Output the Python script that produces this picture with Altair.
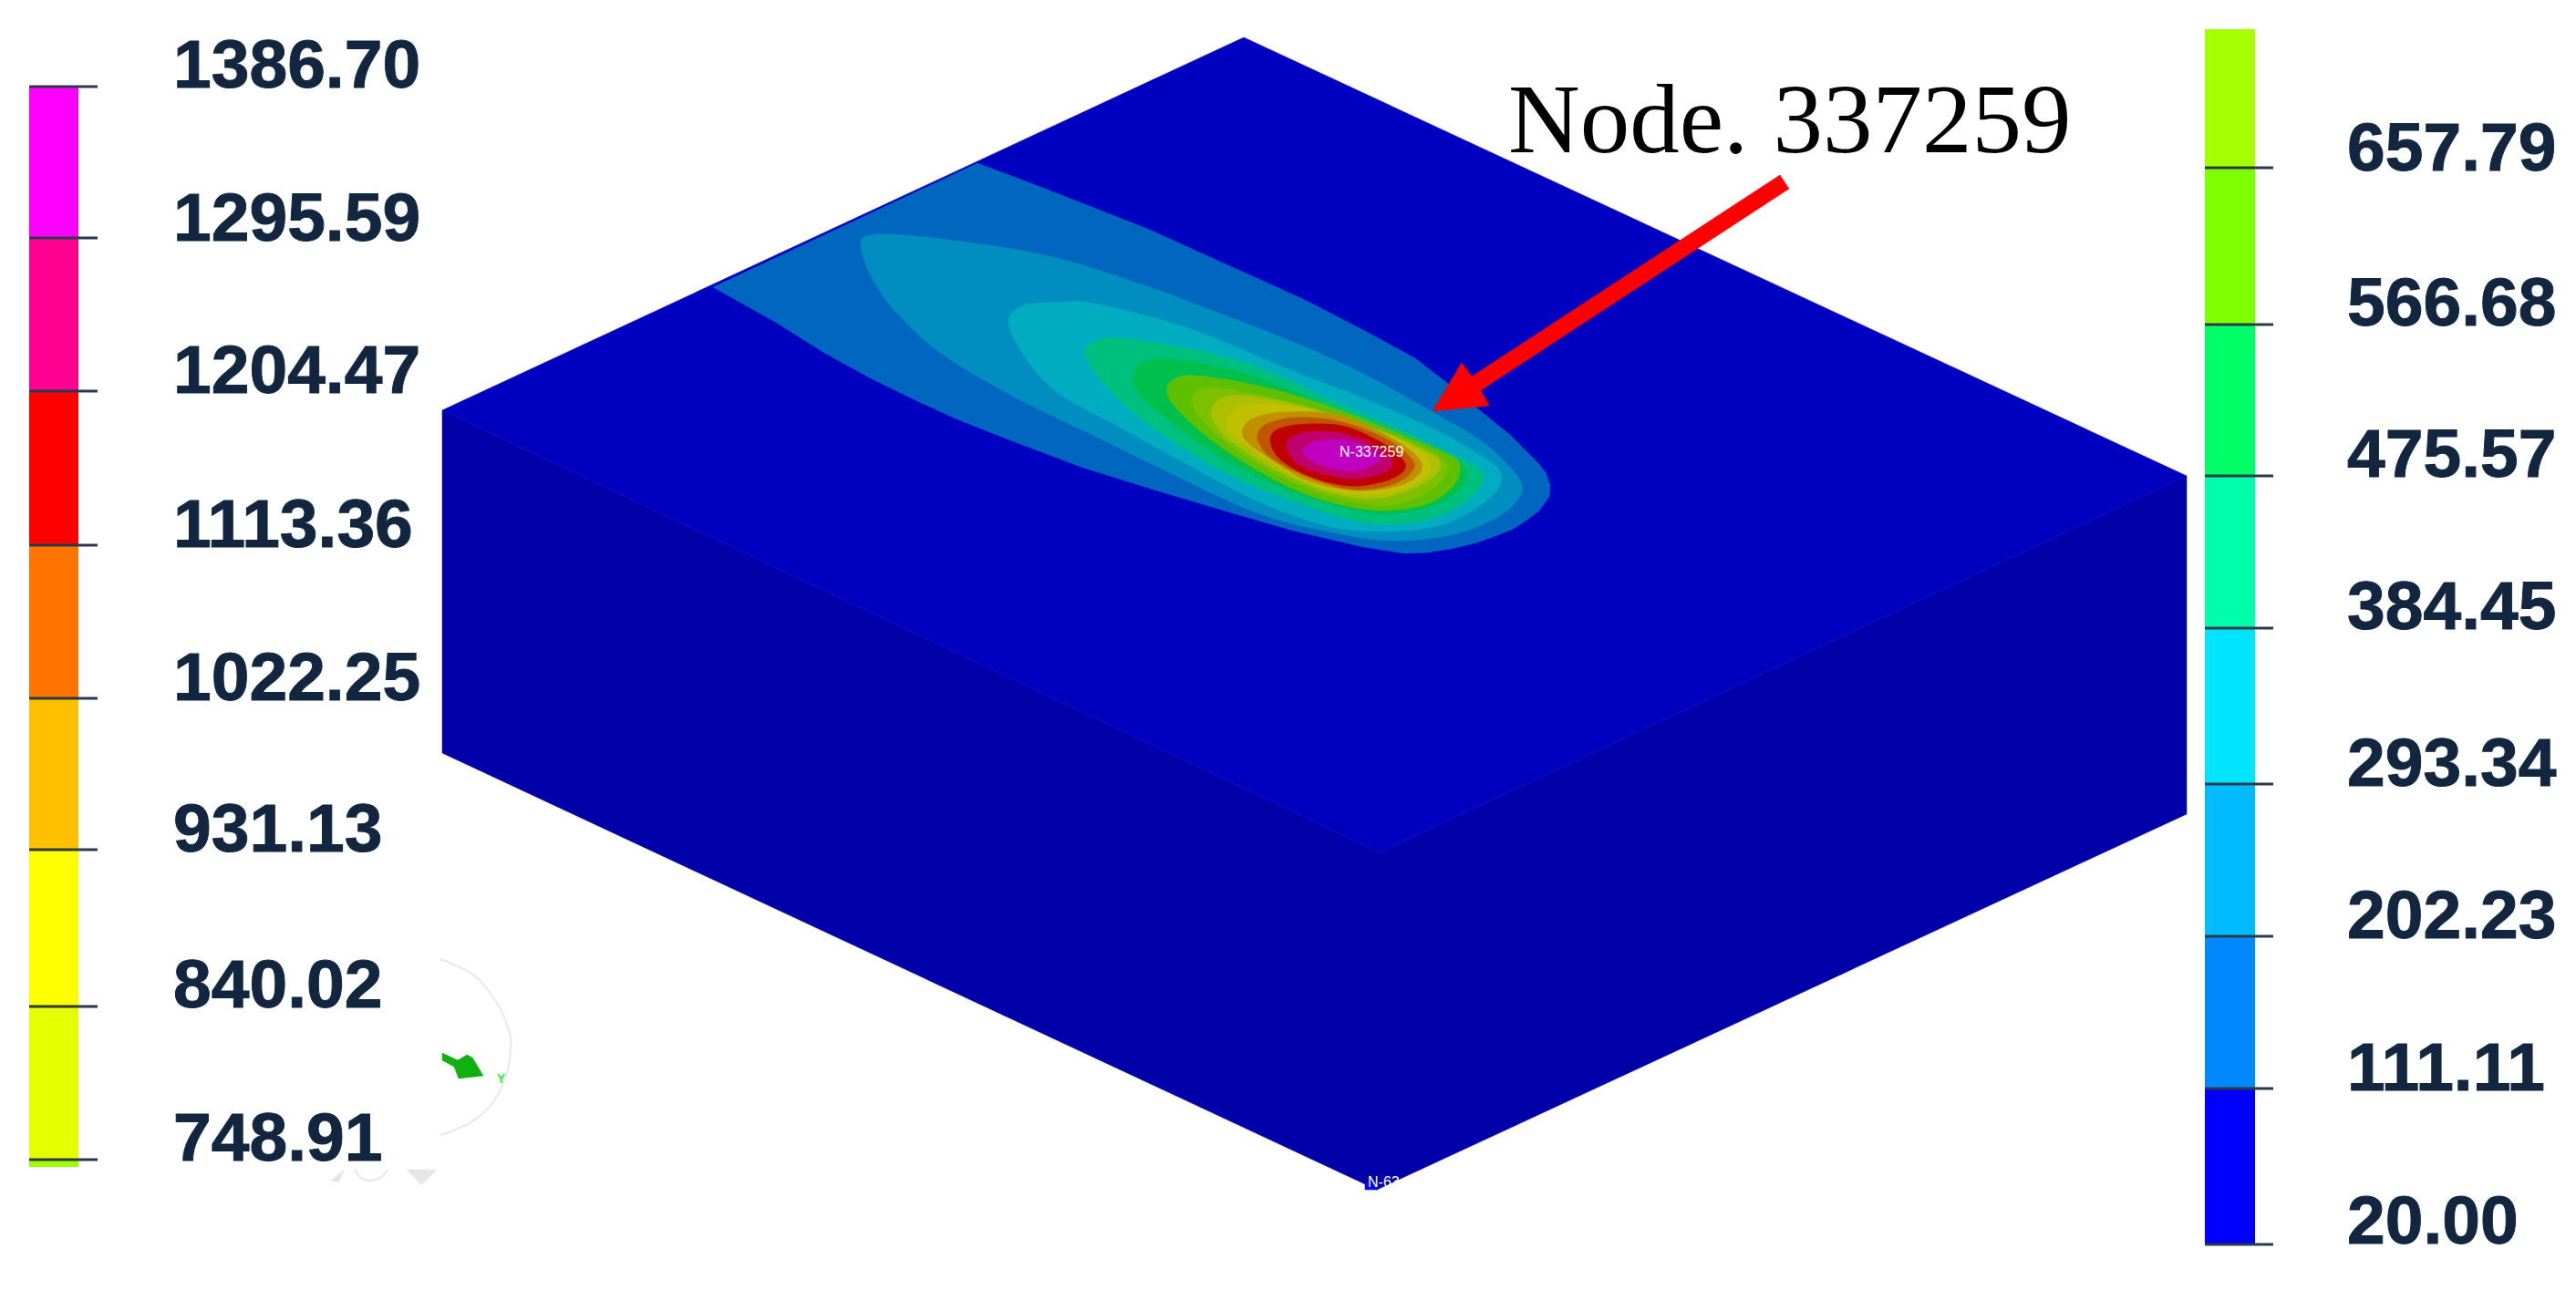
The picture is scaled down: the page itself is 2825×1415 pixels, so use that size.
import altair as alt
import pandas as pd

W, H = 2809, 1399
X = alt.Scale(domain=[8, 8 + W], nice=False, zero=False)
Y = alt.Scale(domain=[8 + H, 8], nice=False, zero=False)

LEFT_LABELS = ["1386.70", "1295.59", "1204.47", "1113.36", "1022.25", "931.13", "840.02", "748.91"]
LEFT_TICKS = [95, 261, 429, 598, 766, 932, 1104, 1272]
LEFT_BASE = [96, 264, 431, 600, 768, 934, 1105, 1273]
LEFT_COLORS = ["#ff00ff", "#ff0090", "#ff0000", "#ff7300", "#ffc000", "#ffff00", "#e4ff00"]

RIGHT_LABELS = ["657.79", "566.68", "475.57", "384.45", "293.34", "202.23", "111.11", "20.00"]
RIGHT_TICKS = [184, 356, 522, 689, 860, 1027, 1194, 1365]
RIGHT_BASE = [187, 357, 523, 690, 862, 1029, 1196, 1364]
RIGHT_COLORS = ["#a6ff00", "#7dff00", "#00ff66", "#00ffaa", "#00e5ff", "#00bbff", "#0088ff", "#0000ff"]

TOP_FACE = [(1364, 41), (2398, 522), (1513, 935), (485, 450)]
SIDE_FACES = [(485, 450), (1513, 935), (2398, 522), (2398, 893), (1510, 1305), (485, 826)]

BAND_OUTER = [(1072, 179), (1115, 195), (1159, 212), (1210, 232), (1261, 252), (1338, 287), (1385, 308), (1433, 330),
              (1495, 362), (1552, 393), (1587, 420), (1625, 452), (1656, 477), (1686, 507), (1695, 518), (1700, 532),
              (1699, 545), (1688, 560), (1675, 570), (1660, 580), (1640, 588), (1617, 596), (1591, 602), (1566, 606),
              (1541, 607), (1495, 600), (1418, 582), (1342, 560), (1265, 537), (1188, 513), (1108, 483), (1050, 460),
              (1006, 440), (955, 415), (904, 387), (850, 353), (782, 315)]
BAND_2 = [(945, 275), (960, 257), (1057, 265), (1159, 283), (1261, 315), (1320, 337), (1418, 375), (1495, 410),
          (1571, 452), (1629, 487), (1667, 527), (1663, 550), (1637, 570), (1591, 587), (1533, 593), (1476, 587),
          (1380, 563), (1265, 510), (1210, 483), (1108, 433), (1026, 383), (970, 327)]
BAND_3 = [(1106, 353), (1123, 335), (1159, 332), (1200, 333), (1303, 360), (1418, 407), (1495, 437), (1571, 470),
          (1629, 503), (1646, 520), (1640, 540), (1610, 563), (1571, 578), (1514, 583), (1456, 577), (1380, 550),
          (1303, 510), (1227, 468), (1159, 430), (1123, 390)]
BAND_4 = [(1190, 390), (1200, 375), (1227, 371), (1303, 382), (1380, 403), (1456, 437), (1533, 470), (1591, 497),
          (1625, 517), (1621, 537), (1591, 560), (1552, 573), (1495, 573), (1418, 550), (1341, 517), (1265, 470),
          (1219, 430)]
BAND_5 = [(1242, 413), (1253, 398), (1284, 394), (1361, 408), (1437, 437), (1514, 470), (1571, 493), (1606, 512),
          (1606, 530), (1579, 552), (1533, 563), (1487, 560), (1418, 540), (1341, 503), (1280, 460), (1250, 433)]
BAND_6 = [(1280, 430), (1286, 417), (1311, 412), (1380, 423), (1456, 445), (1533, 475), (1591, 500), (1601, 513),
          (1594, 533), (1564, 553), (1514, 560), (1456, 550), (1399, 527), (1334, 487), (1292, 450)]
BAND_7 = [(1307, 440), (1315, 428), (1342, 426), (1418, 442), (1495, 465), (1552, 487), (1585, 507), (1581, 527),
          (1552, 547), (1514, 554), (1456, 543), (1399, 520), (1342, 483), (1315, 457)]
BAND_8 = [(1328, 453), (1338, 438), (1365, 434), (1426, 445), (1495, 467), (1552, 490), (1577, 503), (1575, 520),
          (1545, 538), (1502, 547), (1449, 537), (1395, 513), (1349, 483), (1334, 467)]
BAND_9 = [(1345, 467), (1353, 450), (1384, 442), (1449, 452), (1514, 473), (1556, 493), (1568, 507), (1564, 523),
          (1533, 538), (1495, 543), (1441, 532), (1388, 503), (1357, 480)]
BAND_10 = [(1363, 470), (1376, 458), (1410, 452), (1468, 455), (1525, 480), (1556, 503), (1556, 520), (1533, 533),
           (1487, 538), (1434, 527), (1388, 500), (1366, 483)]
BAND_11 = [(1379, 477), (1389, 465), (1422, 458), (1468, 462), (1518, 480), (1548, 503), (1548, 518), (1525, 532),
           (1483, 537), (1434, 523), (1395, 503), (1382, 488)]
BAND_12 = [(1393, 482), (1403, 470), (1434, 465), (1476, 468), (1518, 487), (1539, 505), (1539, 517), (1518, 528),
           (1480, 533), (1437, 523), (1403, 503)]
BAND_13 = [(1411, 487), (1422, 477), (1445, 473), (1480, 477), (1514, 493), (1527, 507), (1518, 518), (1487, 525),
           (1453, 520), (1422, 508)]
BAND_14 = [(1429, 493), (1441, 485), (1464, 482), (1495, 488), (1512, 502), (1506, 510), (1483, 517), (1453, 512),
           (1435, 503)]
BANDS = [BAND_OUTER, BAND_2, BAND_3, BAND_4, BAND_5, BAND_6, BAND_7, BAND_8, BAND_9, BAND_10, BAND_11, BAND_12,
         BAND_13, BAND_14]
BAND_COLORS = ["#0066c0", "#008dc0", "#00acc0", "#00c080", "#00c04d", "#5ec000", "#7dc000", "#abc000", "#c0c000",
               "#c09000", "#c05700", "#c00000", "#c0006c", "#c000c0"]

ARROW = [(1571, 451), (1603, 398), (1614, 413), (1952, 192), (1962, 207), (1624, 428), (1633, 445)]
TRIAD_ARC = [(483, 1052), (520, 1070), (545, 1100), (558, 1130), (560, 1150), (555, 1180), (540, 1210), (515, 1232),
             (483, 1245)]
TRIAD_ARROW = [(485, 1155), (502, 1163), (512, 1157), (518, 1160), (530, 1180), (503, 1183), (498, 1170), (485, 1163)]
GRAY_TRI = [(446, 1283), (479, 1283), (462, 1300)]
GRAY_ARROW = [(377, 1283), (372, 1296), (362, 1296)]
GRAY_ARC = [(389, 1283), (396, 1292), (406, 1295), (417, 1292), (425, 1283)]
PATCH = [(1497, 1297), (1511, 1297), (1511, 1305), (1497, 1305)]


def poly(points, color, interp="linear-closed"):
    d = pd.DataFrame({"i": range(len(points)), "x": [p[0] for p in points], "y": [p[1] for p in points]})
    return alt.Chart(d).mark_line(interpolate=interp, fill=color, stroke=color, strokeWidth=0.5, clip=False).encode(
        x=alt.X("x:Q", scale=X, axis=None),
        y=alt.Y("y:Q", scale=Y, axis=None),
        order="i:Q",
    )


def stroke(points, color, width):
    d = pd.DataFrame({"i": range(len(points)), "x": [p[0] for p in points], "y": [p[1] for p in points]})
    return alt.Chart(d).mark_line(interpolate="cardinal", stroke=color, strokeWidth=width).encode(
        x=alt.X("x:Q", scale=X, axis=None),
        y=alt.Y("y:Q", scale=Y, axis=None),
        order="i:Q",
    )


def bar(edges, colors, x0, x1):
    d = pd.DataFrame({"y": edges[:-1], "y2": edges[1:], "c": colors, "x": x0, "x2": x1})
    return alt.Chart(d).mark_rect().encode(
        x=alt.X("x:Q", scale=X, axis=None), x2="x2:Q",
        y=alt.Y("y:Q", scale=Y, axis=None), y2="y2:Q",
        color=alt.Color("c:N", scale=None),
    )


def rules(ticks, x0, x1):
    d = pd.DataFrame({"y": ticks, "x": x0, "x2": x1})
    return alt.Chart(d).mark_rule(color="#2b3a4a", strokeWidth=3).encode(
        x=alt.X("x:Q", scale=X, axis=None), x2="x2:Q",
        y=alt.Y("y:Q", scale=Y, axis=None),
    )


def labels(texts, xs, ys, color, size, font, weight="normal", outline=0):
    d = pd.DataFrame({"t": texts, "x": xs, "y": ys})
    kw = {"stroke": color, "strokeWidth": outline} if outline else {}
    return alt.Chart(d).mark_text(align="left", baseline="alphabetic", color=color, fontSize=size, font=font,
                                  fontWeight=weight, **kw).encode(
        x=alt.X("x:Q", scale=X, axis=None),
        y=alt.Y("y:Q", scale=Y, axis=None),
        text="t:N",
    )


layers = [
    poly(SIDE_FACES, "#0000a8"),
    poly(TOP_FACE, "#0000c0"),
]
for i, (b, c) in enumerate(zip(BANDS, BAND_COLORS)):
    layers.append(poly(b, c, "cardinal-closed") if i else poly(b, c))

layers += [
    poly(ARROW, "#ff0000"),
    poly(PATCH, "#0000ff"),
    bar(LEFT_TICKS, LEFT_COLORS, 32, 86),
    bar([1272, 1280], ["#9dff00"], 32, 86),
    rules(LEFT_TICKS, 32, 107),
    bar([32] + RIGHT_TICKS, RIGHT_COLORS, 2418, 2473),
    rules(RIGHT_TICKS, 2418, 2493),
    labels(LEFT_LABELS, [190] * 8, LEFT_BASE, "#12263f", 75, "Liberation Sans", "bold", 1),
    labels(RIGHT_LABELS, [2574] * 8, RIGHT_BASE, "#12263f", 75, "Liberation Sans", "bold", 1),
    labels(["Node. 337259"], [1654], [167], "#000000", 109, "Liberation Serif"),
    labels(["N-337259"], [1469], [501], "#ffffff", 16, "Liberation Sans"),
    labels(["N-63"], [1500], [1302], "#ffffff", 16, "Liberation Sans"),
    stroke(TRIAD_ARC, "#e8e8e8", 2),
    poly(TRIAD_ARROW, "#10b010"),
    labels(["Y"], [545], [1188], "#33ee33", 14, "Liberation Sans", "bold"),
    poly(GRAY_TRI, "#e6e6e6"),
    poly(GRAY_ARROW, "#e6e6e6"),
    stroke(GRAY_ARC, "#e8e8e8", 2),
]

chart = alt.layer(*layers).properties(
    width=W, height=H, padding=0, autosize=alt.AutoSizeParams(type="none"),
    background="#ffffff",
).configure_view(stroke=None)

chart.save("out.html", embed_options={"renderer": "svg", "actions": False})
